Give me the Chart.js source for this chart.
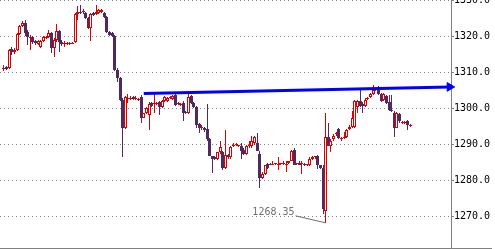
<!DOCTYPE html>
<html>
<head>
<meta charset="utf-8">
<script src="https://cdn.jsdelivr.net/npm/chart.js@4.4.1/dist/chart.umd.min.js"></script>
<style>
  html, body { margin: 0; padding: 0; background: #fff; }
  #wrap { width: 495px; height: 249px; }
</style>
</head>
<body>
<div id="wrap"><canvas id="priceChart" width="495" height="249"></canvas></div>
<script>
// OHLC, one candle per slot (oldest first)
const opens = [
  1311.2, 1311.6, 1311.3, 1316.6, 1315.8, 1316.3, 1320.8, 1323.0, 1323.8, 1321.3,
  1319.7, 1319.9, 1318.8, 1318.0, 1317.2, 1318.8, 1319.8, 1319.9, 1321.1, 1316.9,
  1319.1, 1321.6, 1318.5, 1318.0, 1318.0, 1318.0, 1318.0, 1318.5, 1326.4, 1326.9,
  1326.9, 1326.6, 1325.2, 1322.5, 1326.6, 1326.4, 1326.6, 1326.9, 1326.6, 1325.5,
  1321.3, 1321.1, 1320.2, 1310.7, 1308.5, 1302.4, 1294.6, 1302.8, 1302.8, 1303.2,
  1302.8, 1302.4, 1303.2, 1297.6, 1298.8, 1298.2, 1301.5, 1301.3, 1301.3, 1301.8,
  1300.4, 1302.1, 1302.1, 1302.9, 1302.7, 1303.8, 1301.3, 1301.0, 1301.5, 1299.0,
  1298.8, 1303.5, 1301.5, 1300.4, 1295.7, 1294.6, 1294.8, 1294.3, 1291.5, 1286.8,
  1286.5, 1286.2, 1287.9, 1288.1, 1283.7, 1287.3, 1286.5, 1289.6, 1289.9, 1289.7,
  1289.8, 1288.7, 1287.6, 1289.6, 1289.8, 1290.4, 1290.4, 1287.6, 1280.9, 1282.0,
  1284.8, 1284.5, 1284.5, 1284.6, 1284.3, 1284.6, 1284.6, 1284.5, 1285.0, 1285.6,
  1288.7, 1284.6, 1285.1, 1284.6, 1284.8, 1284.3, 1284.3, 1286.2, 1286.5, 1287.0,
  1284.3, 1283.7, 1271.7, 1292.1, 1289.8, 1291.5, 1292.9, 1294.3, 1291.6, 1291.8,
  1292.1, 1294.3, 1295.1, 1295.1, 1300.4, 1302.1, 1301.3, 1300.7, 1302.7, 1303.2,
  1304.0, 1305.2, 1305.4, 1304.0, 1302.4, 1303.5, 1301.8, 1299.6, 1298.8, 1294.8,
  1298.5, 1296.1, 1296.1, 1296.5, 1295.2
];
const highs = [
  1312.1, 1311.9, 1316.6, 1317.2, 1316.9, 1321.0, 1323.3, 1324.4, 1324.7, 1321.9,
  1320.5, 1320.2, 1319.1, 1319.1, 1319.1, 1320.2, 1320.2, 1321.9, 1321.3, 1319.7,
  1323.6, 1321.9, 1319.1, 1318.8, 1318.5, 1318.5, 1318.5, 1326.6, 1328.6, 1328.9,
  1327.8, 1326.9, 1325.5, 1326.6, 1326.9, 1328.9, 1327.8, 1327.8, 1326.9, 1325.8,
  1321.6, 1321.3, 1320.5, 1311.3, 1308.8, 1302.9, 1303.5, 1304.0, 1303.5, 1303.5,
  1303.5, 1303.0, 1303.8, 1298.8, 1300.4, 1301.8, 1301.8, 1304.3, 1301.8, 1302.1,
  1302.4, 1303.5, 1303.2, 1303.5, 1303.8, 1304.0, 1301.8, 1301.5, 1302.1, 1299.3,
  1304.0, 1303.8, 1301.8, 1300.7, 1296.0, 1295.4, 1295.1, 1301.3, 1291.8, 1287.0,
  1286.8, 1288.1, 1291.2, 1288.4, 1294.0, 1287.6, 1289.6, 1290.4, 1290.4, 1290.1,
  1290.4, 1289.0, 1290.1, 1291.2, 1292.6, 1292.6, 1293.2, 1288.4, 1282.6, 1284.5,
  1285.1, 1285.1, 1285.4, 1285.1, 1286.5, 1285.1, 1285.4, 1285.4, 1285.6, 1288.7,
  1289.0, 1285.1, 1285.4, 1285.6, 1285.1, 1284.8, 1286.5, 1286.8, 1287.0, 1287.3,
  1284.5, 1284.3, 1298.8, 1296.2, 1291.5, 1292.9, 1293.5, 1294.6, 1292.1, 1293.7,
  1294.3, 1295.4, 1299.3, 1302.4, 1302.4, 1305.2, 1301.8, 1302.9, 1303.2, 1304.3,
  1306.6, 1305.8, 1306.3, 1304.3, 1304.3, 1303.8, 1303.8, 1303.8, 1299.3, 1299.0,
  1298.8, 1296.5, 1296.5, 1296.8, 1295.7
];
const lows = [
  1310.5, 1310.9, 1311.0, 1314.9, 1315.2, 1316.0, 1320.5, 1322.7, 1320.2, 1317.7,
  1316.3, 1318.0, 1317.7, 1317.7, 1316.9, 1318.5, 1319.4, 1319.7, 1315.5, 1314.4,
  1318.5, 1315.8, 1317.4, 1317.2, 1317.7, 1317.7, 1317.9, 1318.3, 1324.7, 1326.4,
  1326.4, 1325.0, 1322.2, 1318.8, 1325.8, 1326.1, 1326.4, 1326.6, 1325.2, 1321.1,
  1320.2, 1319.9, 1310.5, 1307.4, 1302.1, 1286.5, 1294.3, 1301.5, 1302.4, 1302.4,
  1302.4, 1302.1, 1296.2, 1297.4, 1298.5, 1294.0, 1300.4, 1298.8, 1301.0, 1298.2,
  1300.2, 1301.8, 1301.8, 1302.7, 1302.4, 1300.7, 1301.0, 1300.7, 1296.5, 1298.5,
  1298.5, 1301.3, 1300.2, 1294.6, 1293.2, 1294.0, 1293.7, 1291.2, 1286.8, 1282.3,
  1285.9, 1285.9, 1287.6, 1282.9, 1283.4, 1286.2, 1286.2, 1289.3, 1289.6, 1289.3,
  1286.2, 1287.3, 1287.3, 1289.0, 1289.0, 1290.1, 1288.2, 1278.1, 1280.6, 1281.7,
  1283.4, 1284.3, 1284.3, 1284.3, 1282.9, 1284.3, 1284.3, 1282.6, 1284.8, 1285.4,
  1284.3, 1284.3, 1284.3, 1282.0, 1284.0, 1284.0, 1284.0, 1285.9, 1286.2, 1283.4,
  1283.4, 1270.9, 1268.35, 1289.6, 1287.9, 1291.2, 1292.6, 1291.5, 1291.2, 1291.5,
  1291.8, 1294.0, 1294.8, 1294.8, 1298.8, 1300.4, 1298.8, 1300.4, 1302.4, 1302.9,
  1303.8, 1305.0, 1303.8, 1301.8, 1302.1, 1301.3, 1299.3, 1299.0, 1292.1, 1294.6,
  1296.2, 1295.8, 1295.8, 1294.0, 1295.0
];
const closes = [
  1311.4, 1311.0, 1316.3, 1315.8, 1316.3, 1320.8, 1323.0, 1323.8, 1321.1, 1319.9,
  1319.9, 1318.5, 1318.3, 1318.8, 1318.8, 1319.9, 1320.1, 1321.1, 1316.9, 1319.1,
  1321.6, 1318.5, 1318.0, 1318.3, 1318.2, 1318.3, 1318.3, 1326.4, 1326.9, 1326.6,
  1327.2, 1325.2, 1322.5, 1326.4, 1326.1, 1326.9, 1327.5, 1327.5, 1325.5, 1321.3,
  1320.5, 1320.2, 1310.7, 1308.5, 1302.4, 1294.6, 1303.2, 1303.1, 1303.0, 1302.7,
  1303.0, 1302.7, 1297.6, 1298.8, 1300.2, 1301.3, 1300.7, 1301.6, 1301.6, 1300.4,
  1302.1, 1303.2, 1302.9, 1303.2, 1303.5, 1301.0, 1301.5, 1301.3, 1298.8, 1298.8,
  1303.2, 1301.5, 1300.4, 1295.4, 1294.8, 1294.9, 1294.0, 1291.5, 1287.0, 1286.2,
  1286.2, 1287.9, 1289.3, 1283.7, 1287.3, 1286.5, 1289.3, 1289.9, 1290.1, 1289.9,
  1288.4, 1287.6, 1289.8, 1289.9, 1291.2, 1292.3, 1288.4, 1280.9, 1282.0, 1284.3,
  1283.7, 1284.8, 1284.8, 1284.9, 1284.6, 1284.9, 1285.0, 1284.8, 1285.4, 1288.4,
  1284.5, 1284.9, 1284.5, 1284.9, 1284.3, 1284.6, 1286.2, 1286.5, 1286.8, 1284.3,
  1283.7, 1272.3, 1292.1, 1289.8, 1291.2, 1292.6, 1293.2, 1291.8, 1291.8, 1292.1,
  1294.0, 1295.1, 1297.6, 1302.1, 1302.1, 1300.7, 1300.7, 1302.6, 1303.0, 1304.0,
  1305.2, 1305.5, 1304.0, 1302.1, 1304.0, 1301.5, 1299.6, 1299.3, 1294.8, 1298.8,
  1296.5, 1296.3, 1296.3, 1295.4, 1295.4
];

// x slots: one empty slot before the first candle, room on the right for the arrow
const SLOTS = 171;
const FIRST_SLOT = 1;
const slotLabels = Array.from({ length: SLOTS }, (_, i) => String(i));

// hand-drawn trend line (slot, price)
const trendSlots = [54, 170];
const trendPrices = [1304.3, 1306.1];

const yTicks = [1270, 1280, 1290, 1300, 1310, 1320, 1330];
const Y_MIN = 1261.35;
const Y_MAX = 1330.25;

const UP = "#dd0000";
const DOWN = "#4f2962";
const GRID = "#808080";
const MONO = "'DejaVu Sans Mono', 'Liberation Mono', monospace";

function candleAt(slot) {
  const k = slot - FIRST_SLOT;
  return k >= 0 && k < opens.length ? k : -1;
}
function isUp(slot) {
  const k = candleAt(slot);
  return k >= 0 && closes[k] >= opens[k];
}

const wickData = slotLabels.map((_, i) => {
  const k = candleAt(i);
  return k < 0 ? null : [lows[k], highs[k]];
});
const bodyData = slotLabels.map((_, i) => {
  const k = candleAt(i);
  return k < 0 ? null : [opens[k], closes[k]];
});
const trendData = slotLabels.map((_, i) => {
  const j = trendSlots.indexOf(i);
  return j < 0 ? null : trendPrices[j];
});

// snap candle bars to whole pixels so they look crisp like the original
const pixelSnap = {
  id: "pixelSnap",
  beforeDatasetsDraw(chart) {
    chart.getSortedVisibleDatasetMetas().forEach((meta) => {
      if (meta.type !== "bar") return;
      meta.data.forEach((el) => {
        if (el.skip) return;
        el.x = Math.floor(el.x) + 0.5;
        el.y = Math.round(el.y);
        el.base = Math.round(el.base);
      });
    });
  },
};

// low marker text + leader line, and bottom frame line under the price scale
const lowMarker = {
  id: "lowMarker",
  afterDatasetsDraw(chart) {
    const { ctx, chartArea } = chart;
    const xs = chart.scales.x, ys = chart.scales.y;
    let k = 0;
    for (let i = 1; i < lows.length; i++) if (lows[i] < lows[k]) k = i;
    const px = Math.floor(xs.getPixelForValue(k + FIRST_SLOT)) + 0.5;
    const py = ys.getPixelForValue(lows[k]);
    ctx.save();
    ctx.strokeStyle = "#707070";
    ctx.lineWidth = 1;
    ctx.beginPath();
    ctx.moveTo(px - 30, py - 7);
    ctx.lineTo(px, py);
    ctx.stroke();
    ctx.fillStyle = "#707070";
    ctx.font = "10px " + MONO;
    ctx.textAlign = "right";
    ctx.textBaseline = "alphabetic";
    ctx.fillText(lows[k].toFixed(2), px - 31, py - 8);
    ctx.strokeStyle = GRID;
    ctx.beginPath();
    ctx.moveTo(chartArea.right, Math.round(chartArea.bottom) + 0.5);
    ctx.lineTo(chart.width - 3, Math.round(chartArea.bottom) + 0.5);
    ctx.stroke();
    ctx.restore();
  },
};

new Chart(document.getElementById("priceChart"), {
  type: "bar",
  data: {
    labels: slotLabels,
    datasets: [
      {
        type: "line",
        data: trendData,
        order: 0,
        spanGaps: true,
        clip: false,
        borderColor: "#0000ff",
        borderWidth: 3,
        pointStyle: "triangle",
        pointRotation: 90,
        pointRadius: (c) => (c.dataIndex === trendSlots[trendSlots.length - 1] ? 5 : 0),
        pointBackgroundColor: "#0000ff",
        pointBorderColor: "#0000ff",
        pointBorderWidth: 1,
      },
      {
        data: bodyData,
        order: 1,
        grouped: false,
        barThickness: 3,
        minBarLength: 1,
        borderWidth: 1,
        borderSkipped: false,
        inflateAmount: 0,
        backgroundColor: (c) => (isUp(c.dataIndex) ? "#ffffff" : DOWN),
        borderColor: (c) => (isUp(c.dataIndex) ? UP : DOWN),
      },
      {
        data: wickData,
        order: 2,
        grouped: false,
        barThickness: 1,
        minBarLength: 1,
        borderWidth: 0,
        inflateAmount: 0,
        backgroundColor: (c) => (isUp(c.dataIndex) ? UP : DOWN),
      },
    ],
  },
  options: {
    responsive: false,
    animation: false,
    events: [],
    layout: { autoPadding: false, padding: { left: 0, right: 0, top: 0, bottom: 1 } },
    plugins: { legend: { display: false }, tooltip: { enabled: false } },
    scales: {
      x: {
        type: "category",
        offset: true,
        ticks: { display: false },
        grid: { display: false, drawTicks: false },
        border: { display: true, color: GRID, width: 1 },
      },
      y: {
        position: "right",
        min: Y_MIN,
        max: Y_MAX,
        afterBuildTicks: (s) => { s.ticks = yTicks.map((v) => ({ value: v })); },
        afterFit: (s) => { s.width = 44; s.paddingTop = 0; s.paddingBottom = 0; },
        ticks: {
          padding: 0,
          color: "#000",
          font: { family: MONO, size: 10 },
          callback: (v) => Number(v).toFixed(1),
        },
        grid: { color: GRID, lineWidth: 1, tickLength: 3, drawTicks: true },
        border: { display: true, color: GRID, width: 1, dash: [1, 3] },
      },
    },
  },
  plugins: [pixelSnap, lowMarker],
});
</script>
</body>
</html>
